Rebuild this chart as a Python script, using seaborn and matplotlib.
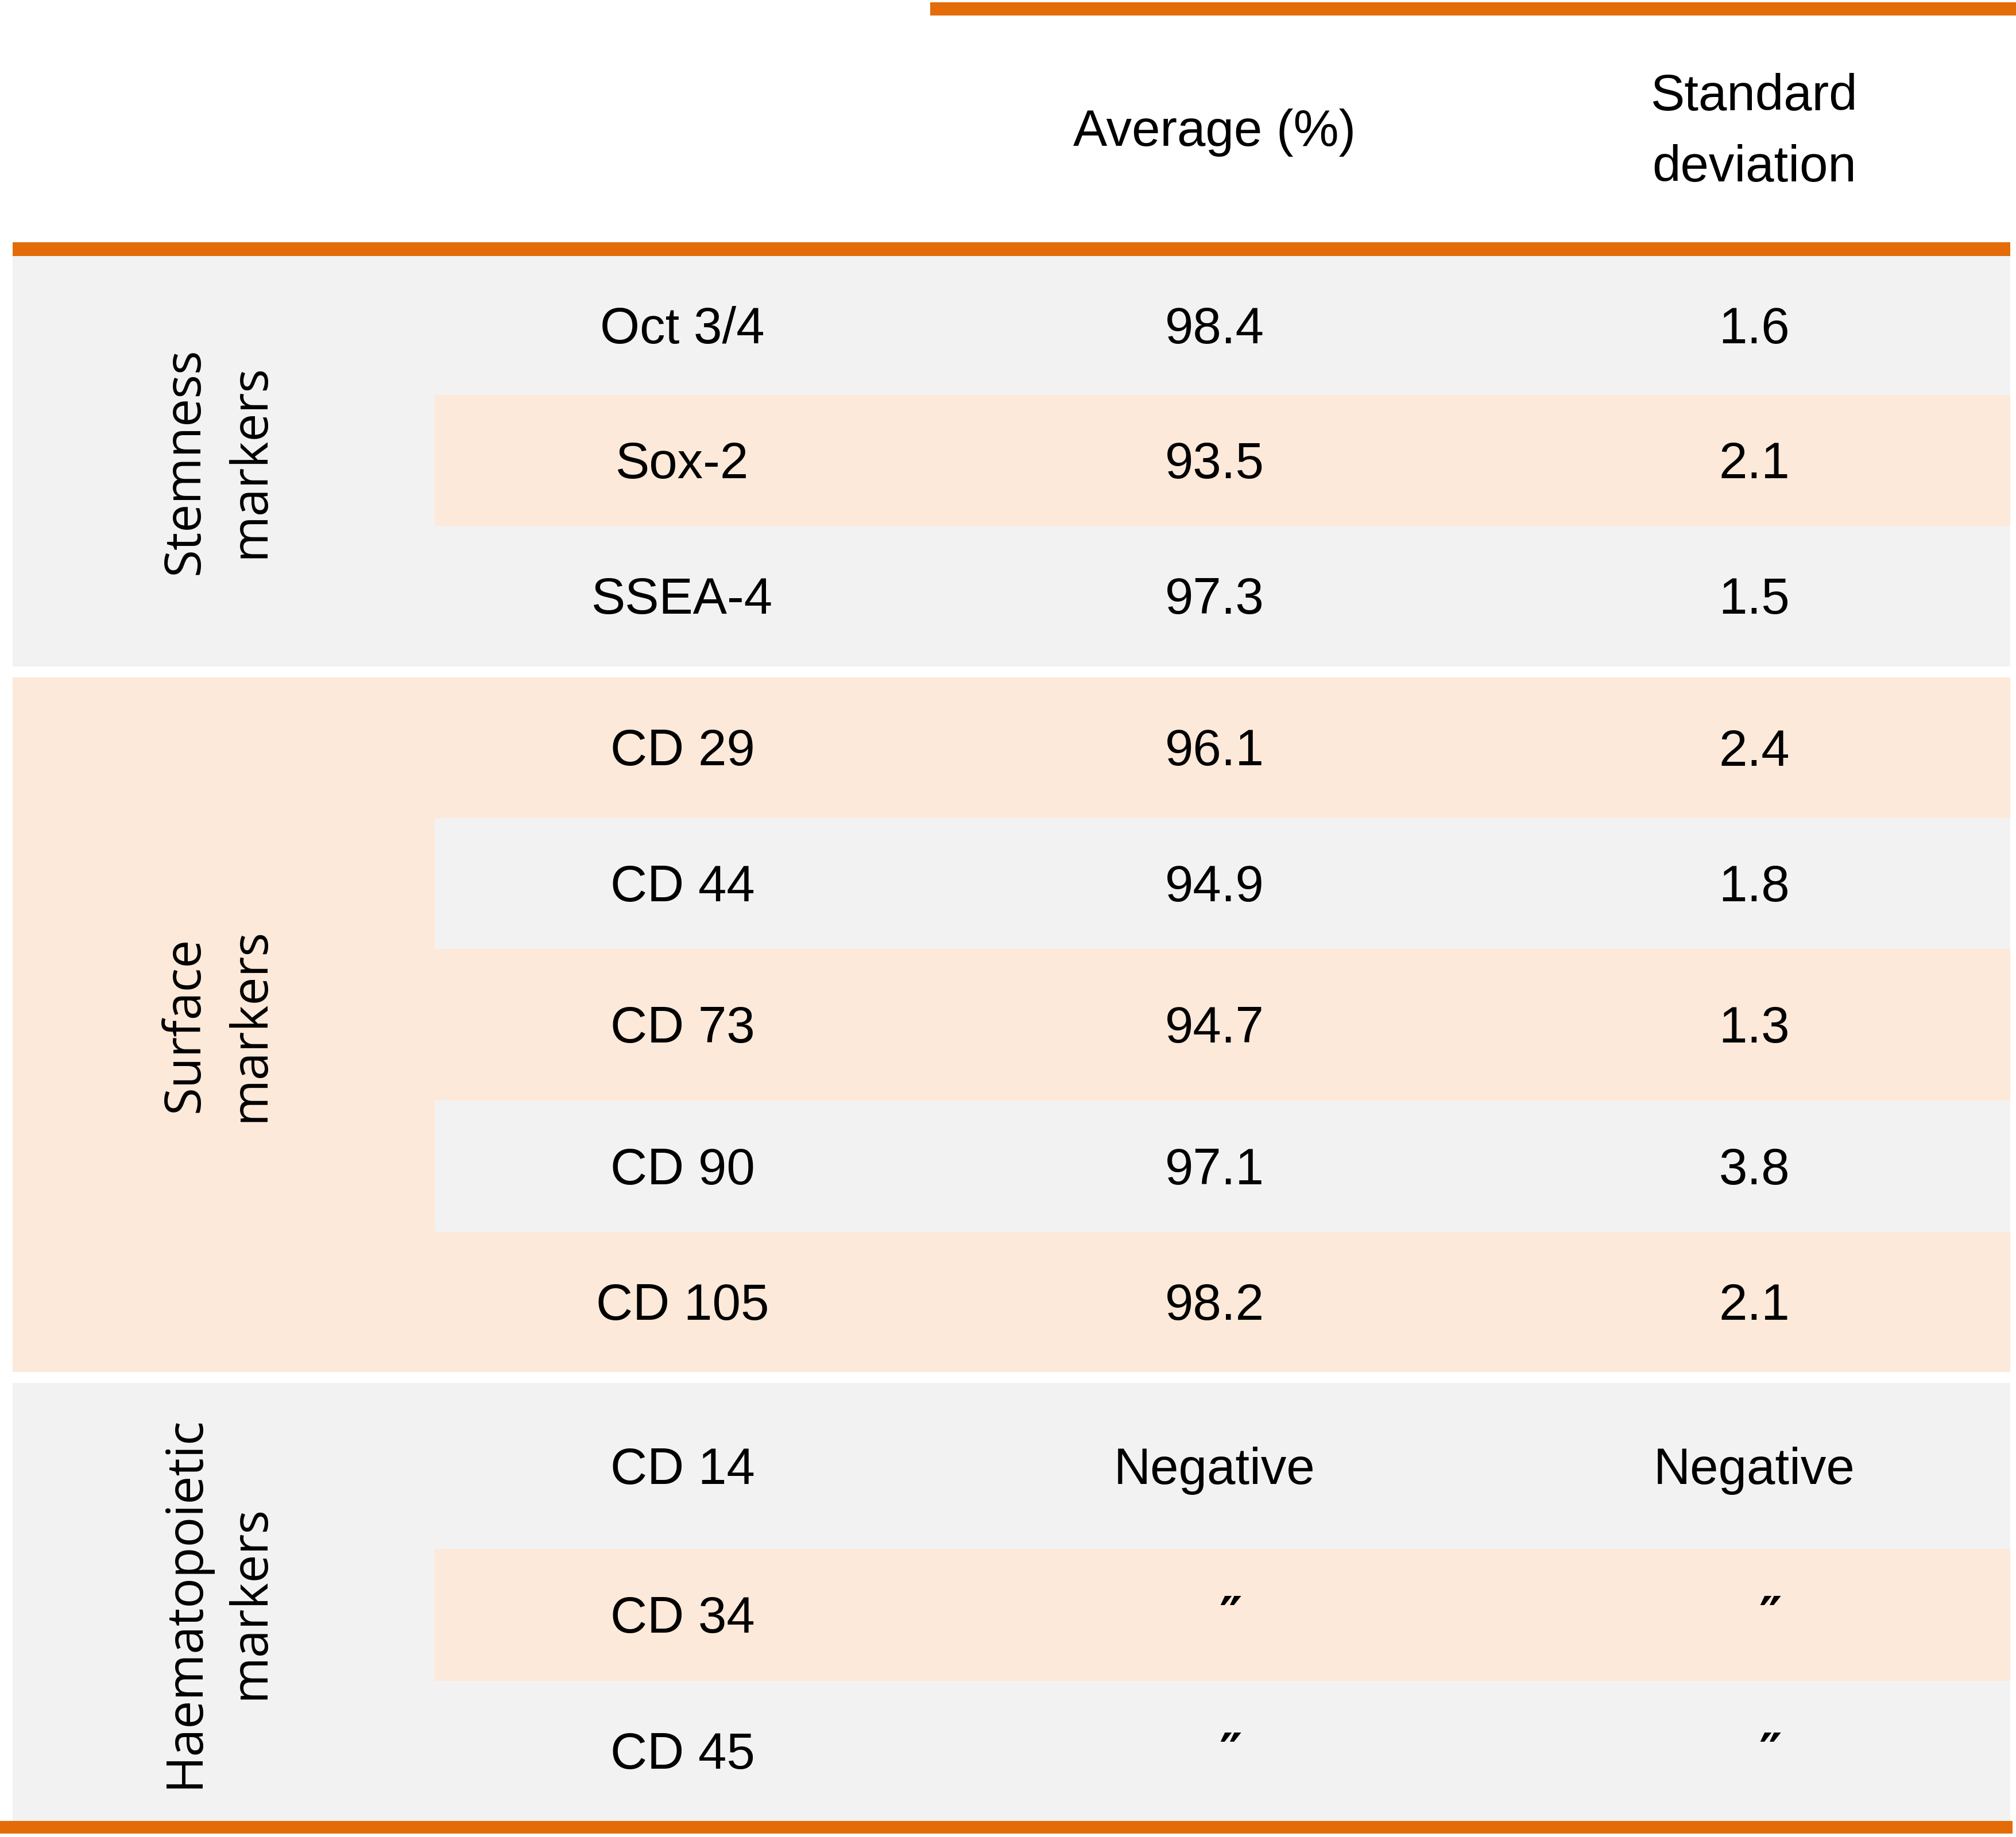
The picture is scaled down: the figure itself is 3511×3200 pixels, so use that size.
import matplotlib.pyplot as plt
import seaborn as sns

# table content
groups = ["Stemness\nmarkers", "Surface\nmarkers", "Haematopoietic\nmarkers"]
group_sizes = [3, 5, 3]
markers = ["Oct 3/4", "Sox-2", "SSEA-4",
           "CD 29", "CD 44", "CD 73", "CD 90", "CD 105",
           "CD 14", "CD 34", "CD 45"]
averages = ["98.4", "93.5", "97.3",
            "96.1", "94.9", "94.7", "97.1", "98.2",
            "Negative", "\u2033", "\u2033"]
std_devs = ["1.6", "2.1", "1.5",
            "2.4", "1.8", "1.3", "3.8", "2.1",
            "Negative", "\u2033", "\u2033"]
headers = ["Average (%)", "Standard\ndeviation"]

# colours
orange = "#E36C09"
grey = "#F2F2F2"
peach = "#FDE9D9"
group_colors = [grey, peach, grey]

# layout, in pixels of the 3512 x 3200 canvas
W, H = 3512, 3200
col_edges = [22, 757, 1620, 2610, 3501]
header_rule = (422, 446)
row_heights = [242, 228, 245, 245, 228, 264, 229, 244, 289, 230, 244]
group_gap = 19
text_shift = 8      # body text sits a little below the row middle
ditto_shift = 28    # ditto marks sit a little right of the column middle

sns.set_theme(style="white")
plt.rcParams["font.family"] = ["Liberation Sans", "DejaVu Sans"]

fig = plt.figure(figsize=(35.12, 32), dpi=100)
ax = fig.add_axes([0, 0, 1, 1])
ax.set_xlim(0, W)
ax.set_ylim(H, 0)
ax.axis("off")

left, right = col_edges[0], col_edges[-1]
body_left = col_edges[1]

# row and group positions
row_tops = []
group_spans = []
y = header_rule[1]
k = 0
for n in group_sizes:
    gtop = y
    for i in range(n):
        row_tops.append(y)
        y += row_heights[k]
        k += 1
    group_spans.append((gtop, y))
    y += group_gap
table_bottom = group_spans[-1][1]

# group backgrounds
for (g0, g1), c in zip(group_spans, group_colors):
    ax.barh((g0 + g1) / 2, right - left, left=left, height=g1 - g0,
            color=c, linewidth=0)

# alternate row shading inside each group
k = 0
for g, n in enumerate(group_sizes):
    other = peach if group_colors[g] == grey else grey
    for i in range(n):
        if i % 2 == 1:
            t = row_tops[k]
            ax.barh(t + row_heights[k] / 2, right - body_left, left=body_left,
                    height=row_heights[k], color=other, linewidth=0)
        k += 1

# orange rules
ax.barh(15, W - col_edges[2], left=col_edges[2], height=23, color=orange, linewidth=0)
ax.barh(sum(header_rule) / 2, right - left, left=left,
        height=header_rule[1] - header_rule[0], color=orange, linewidth=0)
ax.barh(table_bottom + 11, right + 4, left=0, height=22, color=orange, linewidth=0)

fs = 64
col_centers = [(col_edges[i] + col_edges[i + 1]) / 2 for i in range(4)]

# header
for txt, xc in zip(headers, col_centers[2:]):
    ax.text(xc, 231, txt, ha="center", va="center", fontsize=fs,
            linespacing=1.62, color="black")

# body
for k, (m, a, s) in enumerate(zip(markers, averages, std_devs)):
    yc = row_tops[k] + row_heights[k] / 2 + text_shift
    for txt, xc in zip([m, a, s], col_centers[1:]):
        if txt == "\u2033":
            ax.text(xc + ditto_shift, yc, txt, ha="center", va="center",
                    fontsize=fs, color="black", fontweight="bold",
                    family=["DejaVu Sans"])
        else:
            ax.text(xc, yc, txt, ha="center", va="center", fontsize=fs,
                    color="black")

# group labels
for (g0, g1), lab in zip(group_spans, groups):
    ax.text(col_centers[0] - 10, (g0 + g1) / 2, lab, rotation=90,
            ha="center", va="center", multialignment="center",
            fontsize=63, linespacing=1.4, color="black",
            family=["Open Sans", "DejaVu Sans"])

fig.savefig("out.png", dpi=100, facecolor="white")
